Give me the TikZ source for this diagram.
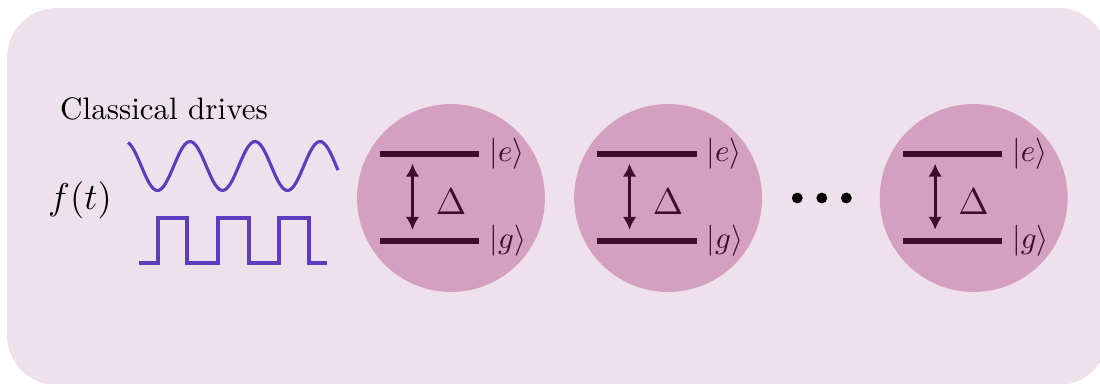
\documentclass[tikz,border=0pt]{standalone}
\usepackage{amsmath, amssymb}
\usepackage{tikz}
\usetikzlibrary{positioning, arrows.meta}

\definecolor{panel}{RGB}{238,225,236}
\definecolor{qubitfill}{RGB}{211,160,191}
\definecolor{lvl}{RGB}{61,12,42}
\definecolor{drivecol}{RGB}{94,60,190}

\begin{document}
\begin{tikzpicture}[x=0.322pt, y=-0.322pt, >={Latex[length=4.2pt,width=4.4pt]},
        qubit/.style={circle, fill=qubitfill, minimum size=60.5pt, inner sep=0pt},
        level/.style={fill=lvl, minimum width=31.9pt, minimum height=1.9pt, inner sep=0pt},
        lvlarrow/.style={<->, draw=lvl, line width=1pt, shorten <=2pt, shorten >=2.5pt},
        dot/.style={circle, fill=black, minimum size=3.5pt, inner sep=0pt},
        drive/.style={draw=drivecol, line width=1pt}]
        \useasboundingbox (0,0) rectangle (1100,383);

        % panel
        \fill[panel, rounded corners=16pt] (7,8) rectangle (1108,385);

        % drives
        \node (title) at (164,109) {Classical drives};
        \node[font=\large] (ft) at (80,200) {$f(t)$};
        \draw[drive, domain=128:338, samples=90, smooth] plot (\x, {166-24.5*cos(5.5385*(\x-125))});
        \draw[drive, line width=1.6pt] (139,263) -| (158,218) -| (187,263) -| (218,218)
            -| (249,263) -| (279,218) -| (309,263) -- (327,263);

        % qubits
        \node[qubit] (q1) at (451,198) {};
        \node[qubit, right=9pt of q1] (q2) {};
        \node[dot, right=9.2pt of q2] (d1) {};
        \node[dot, right=4pt of d1] (d2) {};
        \node[dot, right=4pt of d2] (d3) {};
        \node[qubit, right=8.6pt of d3] (q3) {};

        % first qubit
        \node[level] (e1) at ([xshift=-6.8pt, yshift=14.2pt]q1.center) {};
        \node[level, below=25.8pt of e1] (g1) {};
        \node[right=-0.5pt of e1, text=lvl] (ke1) {$|e\rangle$};
        \node[right=-0.5pt of g1, text=lvl] (kg1) {$|g\rangle$};
        \draw[lvlarrow] ([xshift=-5.6pt]e1.south) -- ([xshift=-5.6pt]g1.north);
        \node[font=\large, text=lvl] (D1) at ([yshift=-1.3pt]q1.center) {$\Delta$};

        % second qubit
        \node[level] (e2) at ([xshift=-6.8pt, yshift=14.2pt]q2.center) {};
        \node[level, below=25.8pt of e2] (g2) {};
        \node[right=-0.5pt of e2, text=lvl] (ke2) {$|e\rangle$};
        \node[right=-0.5pt of g2, text=lvl] (kg2) {$|g\rangle$};
        \draw[lvlarrow] ([xshift=-5.6pt]e2.south) -- ([xshift=-5.6pt]g2.north);
        \node[font=\large, text=lvl] (D2) at ([yshift=-1.3pt]q2.center) {$\Delta$};

        % last qubit
        \node[level] (e3) at ([xshift=-6.8pt, yshift=14.2pt]q3.center) {};
        \node[level, below=25.8pt of e3] (g3) {};
        \node[right=-0.5pt of e3, text=lvl] (ke3) {$|e\rangle$};
        \node[right=-0.5pt of g3, text=lvl] (kg3) {$|g\rangle$};
        \draw[lvlarrow] ([xshift=-5.6pt]e3.south) -- ([xshift=-5.6pt]g3.north);
        \node[font=\large, text=lvl] (D3) at ([yshift=-1.3pt]q3.center) {$\Delta$};

    \end{tikzpicture}
\end{document}
